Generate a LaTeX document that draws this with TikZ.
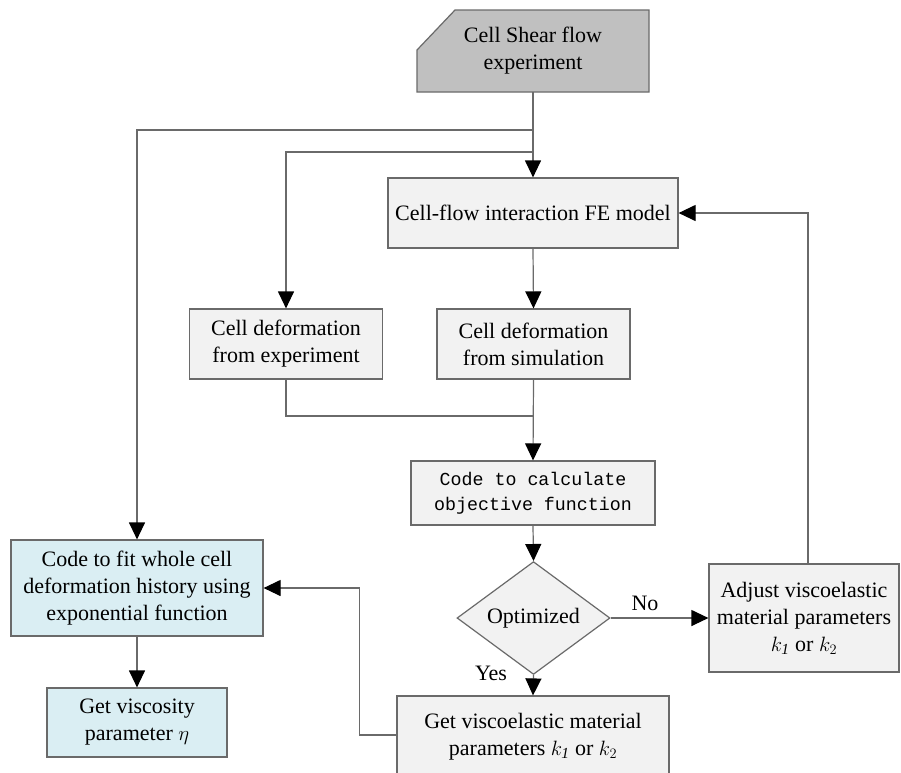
\documentclass[tikz,border=0pt]{standalone}
\usepackage{fontspec}
\setmainfont{Liberation Serif}
\setmonofont{Liberation Mono}
\usetikzlibrary{arrows.meta,shapes.geometric}
\definecolor{linegray}{HTML}{6A6A6A}
\definecolor{boxgray}{HTML}{F2F2F2}
\definecolor{darkgray}{HTML}{C0C0C0}
\definecolor{lightblue}{HTML}{DAEEF3}
\tikzset{
  box/.style={draw=linegray, line width=1.2pt, fill=boxgray, align=center, inner sep=0pt, font=\fontsize{22}{27}\selectfont},
  bluebox/.style={box, fill=lightblue},
  arr/.style={draw=linegray, line width=1.2pt, -{Triangle[length=17pt,width=16pt,color=black]}},
  ln/.style={draw=linegray, line width=1.2pt},
  lbl/.style={font=\fontsize{22}{27}\selectfont}
}
\begin{document}
\begin{tikzpicture}[x=1pt,y=-1pt]
\useasboundingbox[fill=white] (0,0) rectangle (901,772);
% top chamfered box
\fill[darkgray] (455,10) -- (649,10) -- (649,92) -- (417,92) -- (417,50) -- cycle;
\draw[linegray, line width=1.2pt] (455,10) -- (649,10) -- (649,92) -- (417,92) -- (417,50) -- cycle;
\node[align=center, font=\fontsize{22}{27}\selectfont, minimum width=232pt, minimum height=82pt, inner sep=0pt] (top) at (533,51) {Cell Shear flow\\experiment};

\node[box, minimum width=290pt, minimum height=70pt] (fe) at (533,213) {Cell-flow interaction FE model};
\node[box, minimum width=193pt, minimum height=70pt] (exp) at (286,344) {Cell deformation\\from experiment};
\node[box, minimum width=193pt, minimum height=70pt] (sim) at (533.5,344) {Cell deformation\\from simulation};
\node[box, minimum width=244pt, minimum height=64pt, font=\ttfamily\fontsize{18.3}{25}\selectfont] (code) at (533,493) {Code to calculate\\objective function};
\node[diamond, draw=linegray, line width=1.2pt, fill=boxgray, inner sep=0pt, minimum width=153pt, minimum height=70pt, font=\fontsize{22}{27}\selectfont] (opt) at (533.5,618) {Optimized};
\node[box, minimum width=190pt, minimum height=108pt] (adj) at (804,618) {Adjust viscoelastic\\material parameters\\$k_{\mathit{1}}$ or $k_2$};
\node[box, minimum width=272pt, minimum height=82pt] (get) at (533,737) {Get viscoelastic material\\parameters $k_{\mathit{1}}$ or $k_2$};
\node[bluebox, minimum width=252pt, minimum height=96pt] (fit) at (137,588) {Code to fit whole cell\\deformation history using\\exponential function};
\node[bluebox, minimum width=180pt, minimum height=69pt] (visc) at (137,722.5) {Get viscosity\\parameter $\eta$};

% junction coordinates
\coordinate (j1) at (533,130);
\coordinate (j2) at (533,152);
\coordinate (j3) at (533,416);

\draw[arr] (top.south) -- (fe.north);
\draw[arr] (j1) -| (fit.north);
\draw[arr] (j2) -| (exp.north);
\draw[arr] (fe.south) -- (sim.north);
\draw[ln] (exp.south) |- (j3);
\draw[arr] (sim.south) -- (code.north);
\draw[arr] (code.south) -- (opt.north);
\draw[arr] (opt.east) -- (adj.west);
\node[lbl] (no) at (645,603) {No};
\draw[arr] (opt.south) -- (get.north);
\node[lbl] (yes) at (491,673) {Yes};
\draw[arr] ([xshift=4pt]adj.north) |- (fe.east);
\draw[arr] (get.west |- 0,735) -- ++(-37,0) |- (fit.east);
\draw[arr] (fit.south) -- (visc.north);
\end{tikzpicture}
\end{document}
